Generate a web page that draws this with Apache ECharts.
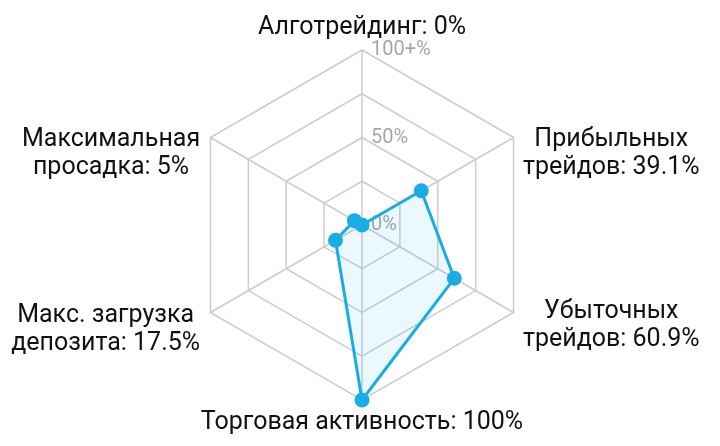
<!DOCTYPE html>
<html>
<head>
<meta charset="utf-8">
<script src="https://cdn.jsdelivr.net/npm/echarts@6/dist/echarts.min.js"></script>
<style>
  html, body { margin: 0; background: #fff; }
  #main { width: 720px; height: 446px; }
</style>
</head>
<body>
<div id="main"></div>
<script>
// indicators in echarts order (counter-clockwise, starting at the top)
var labels = ['Алготрейдинг', 'Максимальная\nпросадка', 'Макс. загрузка\nдепозита', 'Торговая активность', 'Убыточных\nтрейдов', 'Прибыльных\nтрейдов'];
var values = [0, 5, 17.5, 100, 60.9, 39.1];
var ringTicks = ['0%', '', '50%', '', '100+%'];

var names = labels.map(function (l, i) { return l + ': ' + values[i] + '%'; });

// nudges so the names sit where the original put them: [top, right, bottom, left]
var pads = [[3, 0, 0, 0], [38, 6, 0, 0], [30, 6, 0, 0], [8, 0, 0, 0], [22, 0, 0, 5], [38, 0, 0, 5]];
var font = { fontSize: 25, lineHeight: 28, fontFamily: 'Roboto', color: '#111', align: 'center' };
var rich = {};
pads.forEach(function (p, i) {
  rich['n' + i] = Object.assign({ padding: p }, font);
});

var blue = '#1aade5';

var myChart = echarts.init(document.getElementById('main'));
myChart.setOption({
  animation: false,
  backgroundColor: '#fff',
  radar: {
    center: [362, 225],
    radius: 175,
    shape: 'polygon',
    splitNumber: 4,
    nameGap: 5,
    indicator: names.map(function (n, i) {
      var ind = { name: n, min: 0, max: 100 };
      if (i === 0) {
        ind.axisLabel = {
          show: true,
          color: '#a6a6a6',
          fontSize: 20,
          fontFamily: 'Roboto',
          margin: -9,
          align: 'left',
          padding: [11, 0, 0, 0],
          formatter: function (v, idx) { return ringTicks[idx]; }
        };
      }
      return ind;
    }),
    axisName: {
      fontSize: 25,
      lineHeight: 28,
      fontFamily: 'Roboto',
      color: '#111',
      rich: rich,
      formatter: function (name) {
        var i = names.indexOf(name);
        return name.split('\n').map(function (s) {
          return '{n' + i + '|' + s + '}';
        }).join('\n');
      }
    },
    axisLabel: { show: false },
    axisTick: { show: false },
    axisLine: { lineStyle: { color: '#ccc', width: 1.5 } },
    splitLine: { lineStyle: { color: '#ccc', width: 1.5 } },
    splitArea: { show: false }
  },
  series: [{
    type: 'radar',
    symbol: 'circle',
    symbolSize: 15,
    lineStyle: { color: blue, width: 3 },
    itemStyle: { color: blue },
    areaStyle: { color: 'rgba(26,173,229,0.12)' },
    data: [{ value: values }]
  }]
});
</script>
</body>
</html>
